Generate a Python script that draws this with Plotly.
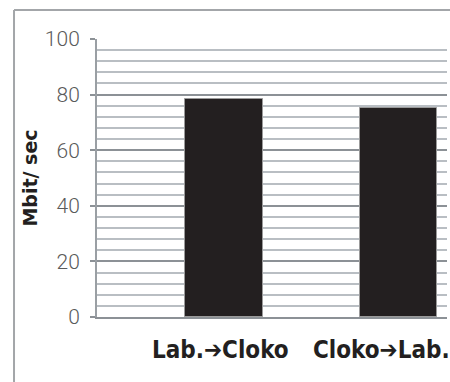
import plotly.graph_objects as go

# Throughput per transfer direction
directions = ["Lab.\u2794Cloko", "Cloko\u2794Lab."]
throughput = [78.4, 75.2]
y_ticks = [0, 20, 40, 60, 80, 100]

fig = go.Figure()
fig.add_trace(go.Bar(
    x=directions,
    y=throughput,
    width=0.447,
    marker=dict(color="#231f20", line=dict(color="#9a9a9a", width=1)),
    showlegend=False,
    hoverinfo="x+y",
))

# direction labels under the bars
label_shift = [-3.5, -17]
for i, name in enumerate(directions):
    fig.add_annotation(
        x=name, xref="x", y=0, yref="y",
        text="<b>%s</b>" % name, showarrow=False,
        yanchor="middle", yshift=-33, xshift=label_shift[i],
        font=dict(family="DejaVu Sans Condensed, Liberation Sans Narrow, sans-serif",
                  size=24, color="#231f20"),
    )

# outer chart frame (left and top edges)
frame = "#a3a6a9"
fig.add_shape(type="line", xref="paper", yref="paper",
              x0=-0.2371, x1=-0.2371, y0=1.1043, y1=-0.24,
              line=dict(color=frame, width=2))
fig.add_shape(type="line", xref="paper", yref="paper",
              x0=-0.2371, x1=1.02, y0=1.1043, y1=1.1043,
              line=dict(color=frame, width=2))

fig.update_layout(
    width=450, height=382,
    margin=dict(l=97, r=3, t=39, b=65),
    paper_bgcolor="white", plot_bgcolor="white",
    bargap=0,
    xaxis=dict(
        type="category",
        range=[-0.728, 1.278],
        showticklabels=False, showgrid=False, zeroline=False,
        showline=True, linecolor="#8c9196", linewidth=2,
        ticks="",
    ),
    yaxis=dict(
        range=[0, 100],
        tickvals=y_ticks,
        ticktext=[str(v) for v in y_ticks],
        showgrid=True, gridcolor="#8c9196", gridwidth=2,
        minor=dict(dtick=4, showgrid=True, gridcolor="#b9bec3", gridwidth=2,
                   ticks=""),
        zeroline=False,
        showline=True, linecolor="#9a9fa4", linewidth=2,
        ticks="outside", ticklen=5, tickwidth=2, tickcolor="#8c9196",
        ticklabelstandoff=6,
        tickfont=dict(family="Roboto, sans-serif", weight=300,
                      size=21, color="#5a5a5a"),
        title=dict(text="<b>Mbit/ sec</b>", standoff=2,
                   font=dict(family="DejaVu Sans, sans-serif", size=19,
                             color="#231f20")),
    ),
)

fig.write_html("out.html")
